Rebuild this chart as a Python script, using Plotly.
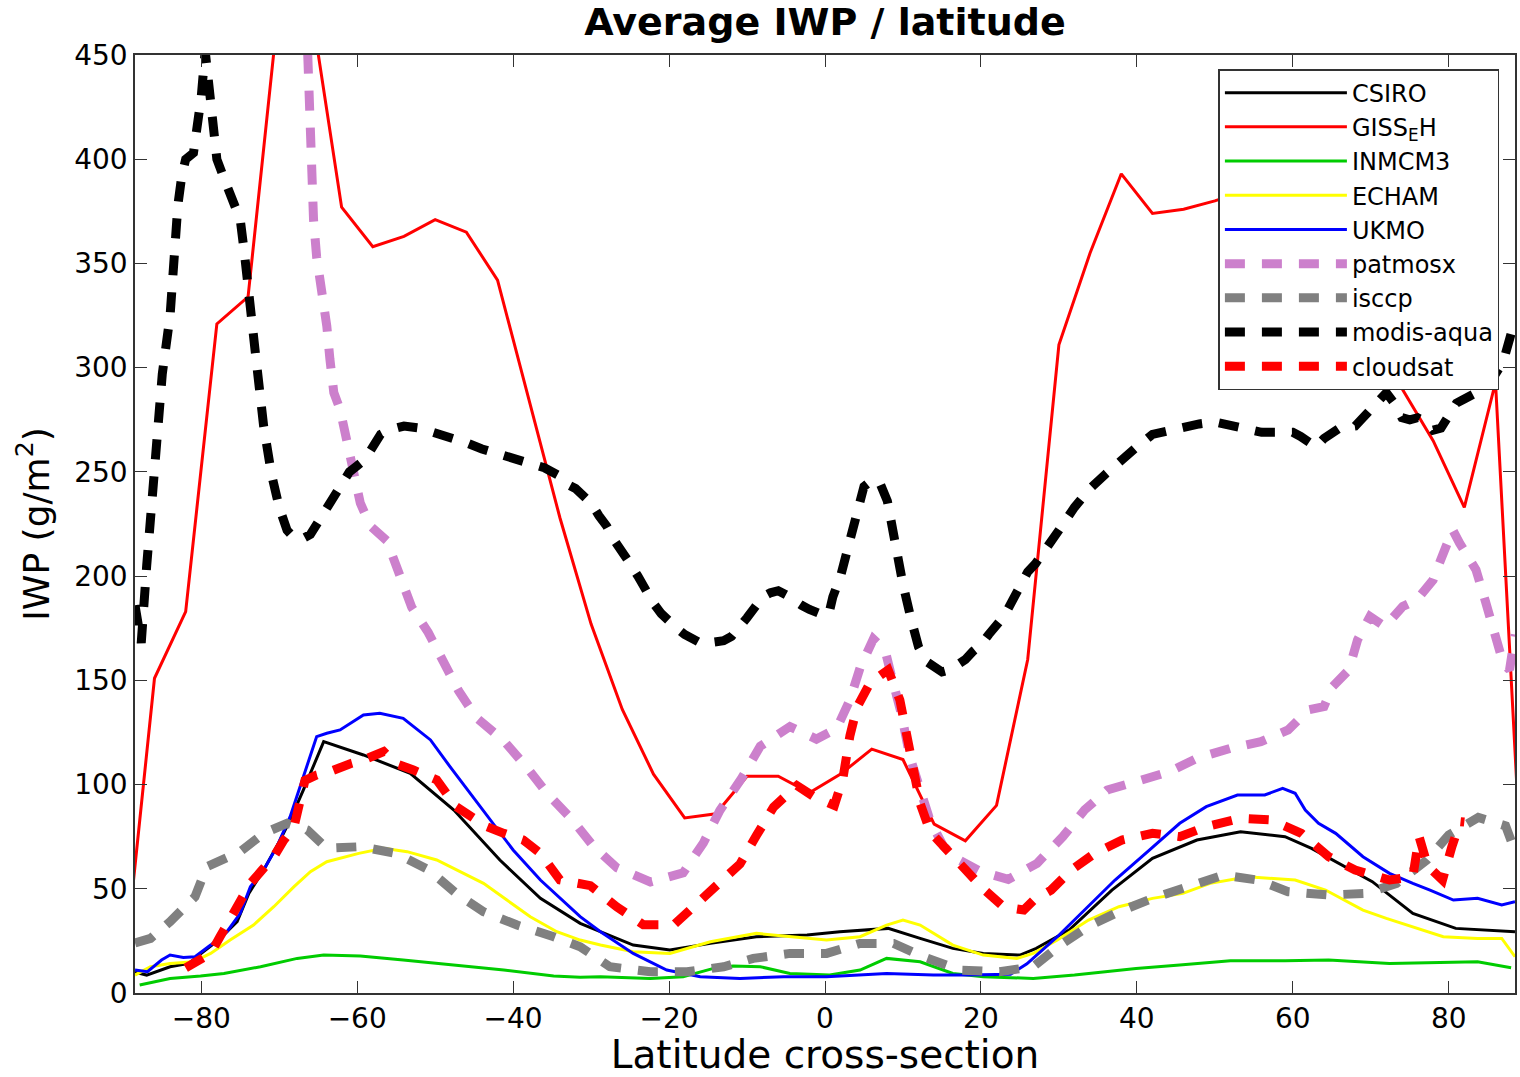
import plotly.graph_objects as go

# ---------------- data ----------------
csiro_lat = [-88.5, -87, -84, -81.6, -80, -77.8, -75.4, -73.9, -72, -70.1, -68.6, -66.9, -64.3, -59.2, -53.2,
             -47.6, -41.7, -36.5, -31.4, -28.8, -24.6, -19.9, -14.7, -8.8, -2.3, 1.9, 8.1, 12.2, 16.4, 20.3,
             25, 27.1, 31.3, 36.8, 42, 47.7, 53.3, 59, 62.4, 70.2, 75.4, 80.9, 88.5]
csiro = [10, 8.6, 12.6, 14.2, 19, 25.4, 34.2, 47.8, 59, 71.8, 83, 97.4, 120.6, 114.2, 105.4,
         87.8, 63.8, 45.4, 33.4, 29.4, 23, 20.6, 23.8, 27, 27.8, 29.4, 31, 26.2, 21.4, 19,
         18.2, 21.4, 30.2, 49.4, 64.6, 73.4, 77.4, 75, 69.4, 53.4, 38.2, 31, 29.4]

giss_lat = [-90, -86, -82, -78, -74, -70, -66, -62, -58, -54, -50, -46, -42, -38, -34, -30, -26, -22,
            -18, -14, -10, -6, -2, 2, 6, 10, 14, 18, 22, 26, 30, 34, 38, 42, 46, 50, 54, 58, 62, 66,
            70, 74, 78, 82, 86, 90]
giss = [7, 151, 183, 321, 334, 476, 475, 377, 358, 363, 371, 365, 342, 285, 228, 177, 136, 105,
        84, 86, 104, 104, 96, 105, 117, 112, 81, 73, 90, 160, 311, 355, 393, 374, 376, 380, 385, 378, 362, 340,
        318, 290, 265, 233, 293, 10]

inm_lat = [-87.9, -84, -80.1, -77.1, -72.4, -67.7, -64.3, -59.6, -54.1, -47.6, -41.2, -34.8, -31.4, -28.8,
           -22.4, -18.2, -14.3, -11.8, -8.3, -4.5, 0.6, 4.5, 7.9, 12.2, 16.4, 20.3, 26.7, 32, 39.9, 45.5,
           52, 59, 64.6, 72.4, 77.6, 83.7, 88]
inm = [3.8, 7, 8.2, 9.4, 12.6, 16.6, 18.2, 17.8, 15.8, 13.4, 11, 8.2, 7.5, 7.8,
       7, 7.8, 11.8, 13, 12.6, 9.4, 8.6, 11, 16.6, 15, 9.4, 7.8, 7, 8.6, 11.8, 13.4,
       15.5, 15.5, 15.8, 14.2, 14.5, 15, 12.1]

ech_lat = [-88.5, -86.5, -84, -81, -78.8, -76.3, -73.3, -70.7, -68.1, -66, -63.9, -59.8, -56.6, -53.6,
           -49.8, -46.4, -43.8, -40.8, -37.8, -34.4, -31.4, -28.8, -24.6, -19.9, -14.7, -8.8, -4.5, 0.2,
           4.5, 7.9, 10, 12.2, 16.4, 20.3, 24.6, 26.7, 29.8, 33.8, 37.7, 42, 45.9, 49.4, 54.2, 60.3, 64.2,
           69, 72, 75.4, 79.3, 83.7, 86.8, 88.5]
ech = [8.6, 12.6, 14.2, 15, 19, 25.4, 32.6, 41.4, 51, 58.2, 63, 67, 69.4, 67.8,
       63.8, 57.4, 52.6, 44.6, 36.6, 29.4, 25.4, 23, 19.8, 19, 24.6, 28.6, 27, 25.4,
       27, 32.6, 35, 32.6, 23, 18.2, 16.6, 19, 25.4, 35, 41.4, 45.4, 47.8, 52.6, 55.8, 54.2, 49.4,
       39.8, 35.8, 31.8, 27, 26.2, 26.2, 17.4]

uk_lat = [-88.5, -86.9, -85.1, -84, -82.3, -80.8, -78.8, -76.7, -75, -73.7, -72, -70.3, -68.6, -66.9,
          -65.2, -63.9, -62.2, -59.2, -57.1, -54.1, -50.6, -48.1, -45.5, -43, -40, -36.5, -33.5, -31.4,
          -28.8, -24.6, -20.3, -16, -10.9, -5.3, 0.2, 7.9, 13.9, 18.2, 23.8, 25.9, 29.8, 33.3, 37.2, 41.6,
          45.5, 48.9, 52.9, 56.4, 58.7, 60.3, 61.6, 63.3, 65.5, 69, 72.4, 75.4, 77.6, 80.6, 83.7, 86.8, 88.5]
uk = [11, 10.2, 15.8, 18.2, 17, 17.4, 23, 29.4, 38.2, 51, 59, 70.2, 84.6, 103.8,
      123, 124.6, 126.2, 133.4, 134.2, 131.8, 121.4, 108.6, 95.8, 83, 68.6, 54.2, 43.8, 36.6,
      29.4, 19, 11, 7.8, 7, 7.8, 7.8, 9.4, 8.6, 8.6, 9, 14, 27, 39.8, 54.2, 68.6,
      81.4, 89.4, 95, 95, 98.2, 95.8, 87.8, 81.4, 76.6, 65.4, 57.4, 52.6, 49.4, 44.6, 45.4, 42.2, 43.8]

pat_lat = [-88.5, -85, -80, -75, -70, -68, -67, -66.4, -66, -65.6, -65.2, -64.5, -63.9, -63.5, -63, -62.2,
           -61.3, -60.5, -59.6, -58.3, -56.2, -54.5, -53, -50.9, -48.7, -47, -44.7, -41.2, -38.2, -35.7,
           -32.5, -29.7, -26.7, -22.4, -18.2, -15.6, -13.5, -10.7, -8.3, -4.5, -1.1, 1.5, 3.2, 4.5, 6.2,
           7.7, 8.6, 9.8, 10.9, 12.2, 13.5, 15.2, 17.3, 19.9, 23.5, 27.2, 30.5, 33.3, 36.2, 39.9, 44.2,
           47.7, 52, 55.9, 59.4, 62, 64, 65.1, 67.2, 68.3, 69.9, 71.8, 74.1, 75.9, 78, 78.8, 80.5, 81.4,
           83.5, 84.7, 85.7, 87, 87.8, 88.5]
pat = [700, 700, 690, 660, 620, 580, 520, 450, 415, 371, 353, 336, 320, 304, 288, 280,
       265, 249, 235, 224, 217, 200, 185, 173, 158, 145, 132, 121, 108, 96,
       83.5, 70.4, 60.1, 53.3, 57.6, 72, 87.5, 103, 118.4, 127.8, 121.8, 126.9, 140.6, 156, 169.8,
       164.6, 150.9, 133.8, 113.2, 97.9, 82.4, 70.4, 63.6, 58.4, 54.5, 62.2, 75, 87.8, 97.4, 101.4, 106.2,
       112.6, 117.4, 120.6, 126.2, 135.8, 137.4, 147, 155, 169.4, 180.6, 175.8, 185.4, 188.6, 198.2, 206.2,
       222.2, 215.8, 203, 188, 174, 158, 155, 172]

isc_lat = [-88.5, -86.5, -84, -82.5, -80.8, -79.3, -76.7, -75, -72, -69, -66.4, -63.9, -59.6, -55, -50.8,
           -47.3, -43.8, -39.5, -34.8, -31.4, -27.6, -22.4, -17.7, -13, -9.2, -4.5, 0.2, 4.5, 8.8, 12.6,
           17.3, 22.4, 26.7, 30.2, 33.7, 37.7, 42, 46.4, 51.1, 55.5, 59.4, 64.6, 69.4, 73.3, 77.2, 80,
           83.8, 87.3, 88.5]
isc = [24, 26.2, 34.2, 40, 46.2, 60.6, 65.4, 67.8, 76.6, 81.4, 78.2, 69.4, 70.2, 67, 59,
       47.8, 39, 32.6, 27, 22.2, 12.6, 10.2, 10.2, 12.6, 16.6, 19, 19, 23.8, 23.8, 17.4,
       11, 10.2, 12.6, 23, 31.8, 39, 45.4, 51, 56.6, 54.2, 48.6, 47, 47.8, 52.6, 63.8, 75.8,
       84.2, 80.2, 68]

modis_lat = [-88.5, -87.7, -87, -86, -85, -84, -83.5, -83, -82.5, -82, -81, -80.5, -80, -79.5, -79, -78.5,
             -78, -77, -76, -75, -74.5, -74, -73.5, -73, -72.5, -72, -71, -70, -69, -68, -67, -66, -65,
             -64, -63, -62, -61, -60, -59, -58, -57, -56, -55, -54, -52, -50, -48, -46, -44, -42, -40,
             -38, -36, -34, -33, -32, -30, -29, -28, -27, -26, -25, -24, -23, -22, -21, -20, -19, -18,
             -17, -16, -15, -14, -13, -12, -11, -10, -9, -8, -7, -6, -5, -4, -3, -2, -1, 0, 0.5, 1, 2, 3,
             4, 5, 6, 7, 8, 9, 10, 11, 12, 13, 14, 15, 16, 17, 18, 19, 20, 21, 22, 23, 24, 25, 26, 27,
             28, 30, 32, 34, 36, 38, 40, 42, 44, 46, 48, 50, 52, 54, 56, 58, 60, 61, 62, 63, 64, 66, 68,
             69, 70, 72, 73, 74, 75, 76, 77, 78, 79, 80, 81, 82, 84, 85, 86, 87, 88, 88.5]
modis = [186, 168, 205, 255, 297, 325, 355, 378, 392, 400, 403, 415, 430, 452, 433, 415,
         400, 390, 381, 371, 356, 342, 322, 305, 285, 272, 249, 233, 222, 218, 218, 220, 226,
         232, 240, 245, 250, 253, 256, 262, 268, 270, 271, 272, 271, 269, 267, 264, 261, 259, 257,
         255, 252, 248, 244, 242, 235, 229, 224, 217, 212, 206, 200, 193, 187, 182, 178, 175, 172,
         170, 168, 168, 168, 169, 171, 175, 180, 185, 190, 192, 193, 191, 188, 186, 184, 182, 181, 182, 190, 200, 214,
         230, 243, 246, 245, 236, 215, 196, 180, 166, 159, 156, 154, 155, 157, 160, 164, 167, 172, 176, 181, 188, 196, 202, 206,
         212, 222, 233, 242, 249, 256, 262, 268, 270, 271, 273, 274, 272, 271, 269, 269, 269, 267, 264, 262, 266, 271, 272,
         276, 280, 288, 283, 276, 275, 276, 274, 270, 271, 278, 283, 285, 289, 293, 297, 303, 315, 323]

cs_lat = [-82, -80.6, -78.8, -77.6, -76.3, -75, -73.7, -72.2, -70.7, -69.4, -68.1, -67.3, -66.7, -65.2,
          -63.5, -60.9, -59.2, -56.6, -55, -52.8, -49.8, -47.3, -46, -43.4, -41.2, -38.7, -36.5, -34,
          -30.1, -26.7, -23.3, -19.4, -16.4, -13.9, -10.9, -8.8, -6.6, -3.6, -1.5, 1.2, 2.3, 3.2, 4.1,
          5.8, 8.1, 9.6, 10.5, 11.3, 12.2, 13.5, 15.6, 18.2, 20.3, 22.9, 25.5, 26.8, 29, 31.6, 34.6,
          38.1, 42, 45.5, 48.9, 53.3, 57.2, 61.1, 64.6, 68, 72.4, 75.4, 76.2, 77.3, 79.2, 80.4, 81.5, 82]
cs = [12, 15, 19, 27, 35, 44.6, 52.6, 59, 65.4, 73.4, 79.8, 92.6, 102, 104.6,
      106.2, 110, 111.8, 115.8, 110, 107, 102.2, 89.4, 86.2, 79.8, 76.6, 73.4, 67, 54.2,
      51.5, 41.3, 32.7, 32.7, 43, 51.6, 61.9, 75.5, 89.2, 99.5, 94.4, 90, 103, 123.5, 137,
      149, 155, 140.6, 123.5, 106.4, 91, 77.3, 68.6, 58.4, 50, 41.3, 39.8, 44.6, 49.4, 59, 67,
      73.4, 76.6, 75, 79.8, 83.8, 83, 76.6, 65.4, 59, 54.2, 55.8, 75, 61, 54.2, 70.2, 82.2, 82]

x_ticks = [-80, -60, -40, -20, 0, 20, 40, 60, 80]
y_ticks = [0, 50, 100, 150, 200, 250, 300, 350, 400, 450]

# ---------------- figure ----------------
DASH = "20px,17px"
series = [
    ("CSIRO", csiro_lat, csiro, "#000000", 3, "solid"),
    ("GISS<sub>E</sub>H", giss_lat, giss, "#FF0000", 3, "solid"),
    ("INMCM3", inm_lat, inm, "#00CC00", 3, "solid"),
    ("ECHAM", ech_lat, ech, "#FFFF00", 3, "solid"),
    ("UKMO", uk_lat, uk, "#0000FF", 3, "solid"),
    ("patmosx", pat_lat, pat, "#CC80CC", 9, DASH),
    ("isccp", isc_lat, isc, "#808080", 9, DASH),
    ("modis-aqua", modis_lat, modis, "#000000", 9, DASH),
    ("cloudsat", cs_lat, cs, "#FF0000", 9, DASH),
]

fig = go.Figure()
for name, x, y, color, w, dash in series:
    fig.add_trace(go.Scatter(x=x, y=y, name=name, mode="lines",
                             line=dict(color=color, width=w, dash=dash)))

FONT = "DejaVu Sans, Verdana, sans-serif"
axis_common = dict(showgrid=False, zeroline=False, showline=True, linecolor="#333333", linewidth=1.5,
                   mirror="ticks", ticks="inside", ticklen=12, tickwidth=1.2, tickcolor="#333333",
                   tickfont=dict(size=28, color="black", family=FONT), automargin=False)

fig.update_layout(
    width=1520, height=1077,
    margin=dict(l=135, r=5, t=55, b=84),
    paper_bgcolor="white", plot_bgcolor="white",
    font=dict(family=FONT, color="black"),
    title=dict(text="<b>Average IWP / latitude</b>", x=0.5, xref="paper", xanchor="center",
               y=1 - 22 / 1077, yanchor="middle", font=dict(size=38, color="black", family=FONT)),
    xaxis=dict(range=[-88.5, 88.5], tickvals=x_ticks,
               title=dict(text="Latitude cross-section", font=dict(size=39, family=FONT), standoff=10),
               **axis_common),
    yaxis=dict(range=[0, 450], tickvals=y_ticks,
               title=dict(text="IWP (g/m<sup>2</sup>)", font=dict(size=36, family=FONT), standoff=14),
               **axis_common),
    legend=dict(x=0.9887, y=0.985, xanchor="right", yanchor="top", bgcolor="white",
                bordercolor="#333333", borderwidth=1.5, font=dict(size=24, color="black", family=FONT),
                itemwidth=122, tracegroupgap=0),
    showlegend=True,
)

fig.write_html("out.html", config={"displayModeBar": False},
               post_script="document.body.style.margin='0px';")
